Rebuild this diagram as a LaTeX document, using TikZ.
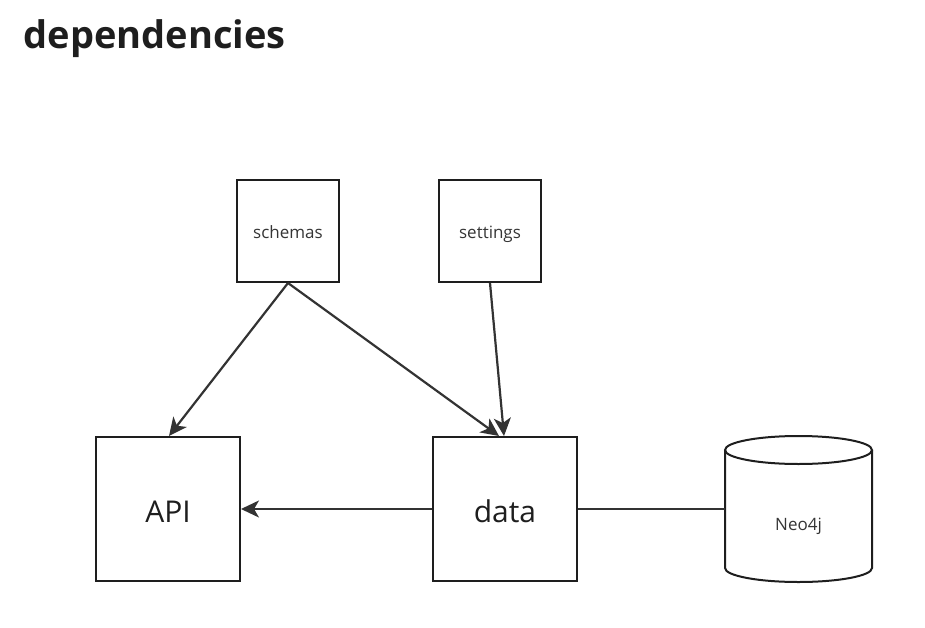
\documentclass[tikz,border=0pt]{standalone}
\usepackage{fontspec}
\setmainfont{Open Sans}
\usetikzlibrary{arrows.meta}
\definecolor{ink}{HTML}{1E1E1E}
\definecolor{edge}{HTML}{333333}
\begin{document}
\begin{tikzpicture}[x=1pt,y=-1pt,
  box/.style={draw=ink,line width=2pt,minimum width=102pt,minimum height=102pt,inner sep=0pt,text height=16pt,text depth=2pt,font=\fontsize{17}{20}\selectfont,text=ink!90},
  bigbox/.style={draw=ink,line width=2pt,minimum width=144pt,minimum height=144pt,inner sep=0pt,text height=28pt,text depth=2pt,font=\fontsize{30}{35}\selectfont,text=ink},
  dbnode/.style={minimum width=147pt,minimum height=146pt,inner sep=0pt,text height=44pt,text depth=2pt,font=\fontsize{17}{20}\selectfont,text=ink!90},
  dbline/.style={draw=ink,line width=2pt},
  conn/.style={draw=edge,line width=2.2pt},
  arr/.style={conn,-{Stealth[length=18pt,width=17pt,inset=5pt]}}]
\useasboundingbox (0,0) rectangle (925,628);
\node[anchor=base west,font=\bfseries\fontsize{38}{44}\selectfont,text=ink] (title) at (20,49) {dependencies};
\node[box] (schemas) at (288,231) {schemas};
\node[box] (settings) at (490,231) {settings};
\node[bigbox] (api) at (168,509) {API};
\node[bigbox] (data) at (505,509) {data};
\node[dbnode] (neo) at (798.5,509) {Neo4j};
\draw[dbline] (725,450) arc[start angle=180,end angle=360,x radius=73.5,y radius=14]
  arc[start angle=0,end angle=180,x radius=73.5,y radius=14] -- cycle;
\draw[dbline] (725,450) -- (725,568) arc[start angle=180,end angle=0,x radius=73.5,y radius=14] -- (872,450);
\coordinate (apitop) at (169,436);
\coordinate (datatop1) at (499,436);
\coordinate (datatop2) at (504,436);
\draw[arr] (schemas.south) -- (apitop);
\draw[arr] (schemas.south) -- (datatop1);
\draw[arr] (settings.south) -- (datatop2);
\draw[arr] (data.west) -- (api.east);
\draw[conn] (data.east) -- (neo.west);
\end{tikzpicture}
\end{document}
